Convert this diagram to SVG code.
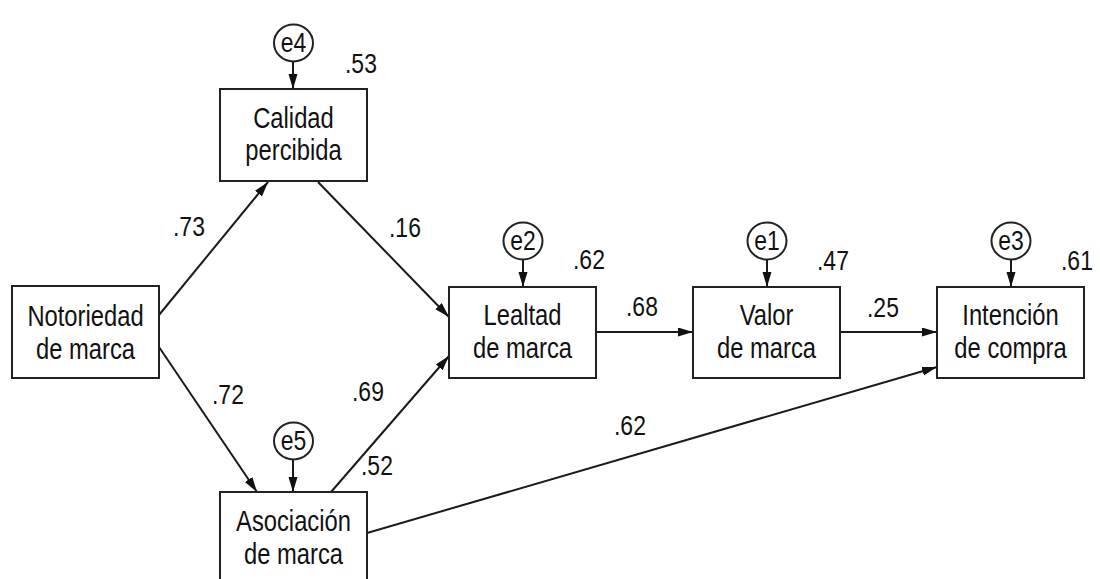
<svg xmlns="http://www.w3.org/2000/svg" width="1100" height="579" viewBox="0 0 1100 579">
<defs>
<style>
.box{fill:#fff;stroke:#222;stroke-width:2}
.err{fill:#fff;stroke:#222;stroke-width:2}
.lbl{font-family:"Liberation Sans",Arial,sans-serif;font-size:29px;fill:#111;text-anchor:middle}
.el{font-family:"Liberation Sans",Arial,sans-serif;font-size:27px;fill:#111;text-anchor:middle}
.num{font-family:"Liberation Sans",Arial,sans-serif;font-size:27px;fill:#111}
.con{stroke:#1a1a1a;stroke-width:2;fill:none;marker-end:url(#ah)}
</style>
<marker id="ah" markerUnits="userSpaceOnUse" markerWidth="16" markerHeight="10" refX="15" refY="4.5" orient="auto">
<path d="M0,0 L15,4.5 L0,9 z" fill="#111"/>
</marker>
</defs>
<rect width="1100" height="579" fill="#fff"/>

<g id="connectors">
<line class="con" x1="159" y1="315" x2="268" y2="182"/>
<line class="con" x1="159" y1="347" x2="257" y2="492"/>
<line class="con" x1="318" y1="182" x2="449" y2="317"/>
<line class="con" x1="331" y1="492" x2="449" y2="356"/>
<line class="con" x1="596" y1="332" x2="693" y2="332"/>
<line class="con" x1="840" y1="332" x2="937" y2="332"/>
<line class="con" x1="367" y1="533" x2="937" y2="367"/>
<line class="con" x1="293" y1="62" x2="293" y2="89"/>
<line class="con" x1="523" y1="260" x2="523" y2="287"/>
<line class="con" x1="767" y1="260" x2="767" y2="287"/>
<line class="con" x1="1011" y1="260" x2="1011" y2="287"/>
<line class="con" x1="293" y1="460" x2="293" y2="492"/>
</g>

<g id="calidad">
<rect class="box" x="220" y="89" width="147" height="92"/>
<text class="lbl" transform="translate(293.5,128) scale(0.82,1)">Calidad</text>
<text class="lbl" transform="translate(293.5,160) scale(0.82,1)">percibida</text>
</g>
<g id="notoriedad">
<rect class="box" x="12" y="286" width="147" height="92"/>
<text class="lbl" transform="translate(85.5,326) scale(0.82,1)">Notoriedad</text>
<text class="lbl" transform="translate(85.5,359) scale(0.82,1)">de marca</text>
</g>
<g id="lealtad">
<rect class="box" x="449" y="287" width="147" height="91"/>
<text class="lbl" transform="translate(522.5,325) scale(0.82,1)">Lealtad</text>
<text class="lbl" transform="translate(522.5,358) scale(0.82,1)">de marca</text>
</g>
<g id="valor">
<rect class="box" x="693" y="287" width="147" height="91"/>
<text class="lbl" transform="translate(766.5,325) scale(0.82,1)">Valor</text>
<text class="lbl" transform="translate(766.5,358) scale(0.82,1)">de marca</text>
</g>
<g id="intencion">
<rect class="box" x="937" y="287" width="147" height="91"/>
<text class="lbl" transform="translate(1010.5,325) scale(0.82,1)">Intención</text>
<text class="lbl" transform="translate(1010.5,358) scale(0.82,1)">de compra</text>
</g>
<g id="asociacion">
<rect class="box" x="220" y="492" width="147" height="92"/>
<text class="lbl" transform="translate(293.5,531) scale(0.82,1)">Asociación</text>
<text class="lbl" transform="translate(293.5,564) scale(0.82,1)">de marca</text>
</g>

<g id="e4">
<ellipse class="err" cx="293.5" cy="43" rx="19.5" ry="18.5"/>
<text class="el" transform="translate(293.5,52) scale(0.85,1)">e4</text>
</g>
<g id="e2">
<ellipse class="err" cx="523" cy="241" rx="19.5" ry="18.5"/>
<text class="el" transform="translate(523,250) scale(0.85,1)">e2</text>
</g>
<g id="e1">
<ellipse class="err" cx="767" cy="241" rx="19.5" ry="18.5"/>
<text class="el" transform="translate(767,250) scale(0.85,1)">e1</text>
</g>
<g id="e3">
<ellipse class="err" cx="1011" cy="241" rx="19.5" ry="18.5"/>
<text class="el" transform="translate(1011,250) scale(0.85,1)">e3</text>
</g>
<g id="e5">
<ellipse class="err" cx="293.5" cy="441" rx="19.5" ry="18.5"/>
<text class="el" transform="translate(293.5,450) scale(0.85,1)">e5</text>
</g>

<g id="values">
<text class="num" transform="translate(345,73) scale(0.85,1)">.53</text>
<text class="num" transform="translate(173,236) scale(0.85,1)">.73</text>
<text class="num" transform="translate(389,237) scale(0.85,1)">.16</text>
<text class="num" transform="translate(573,269) scale(0.85,1)">.62</text>
<text class="num" transform="translate(817,270) scale(0.85,1)">.47</text>
<text class="num" transform="translate(1061,270) scale(0.85,1)">.61</text>
<text class="num" transform="translate(626,316) scale(0.85,1)">.68</text>
<text class="num" transform="translate(867,317) scale(0.85,1)">.25</text>
<text class="num" transform="translate(212,404) scale(0.85,1)">.72</text>
<text class="num" transform="translate(352,401) scale(0.85,1)">.69</text>
<text class="num" transform="translate(361,475) scale(0.85,1)">.52</text>
<text class="num" transform="translate(614,435) scale(0.85,1)">.62</text>
</g>
</svg>
